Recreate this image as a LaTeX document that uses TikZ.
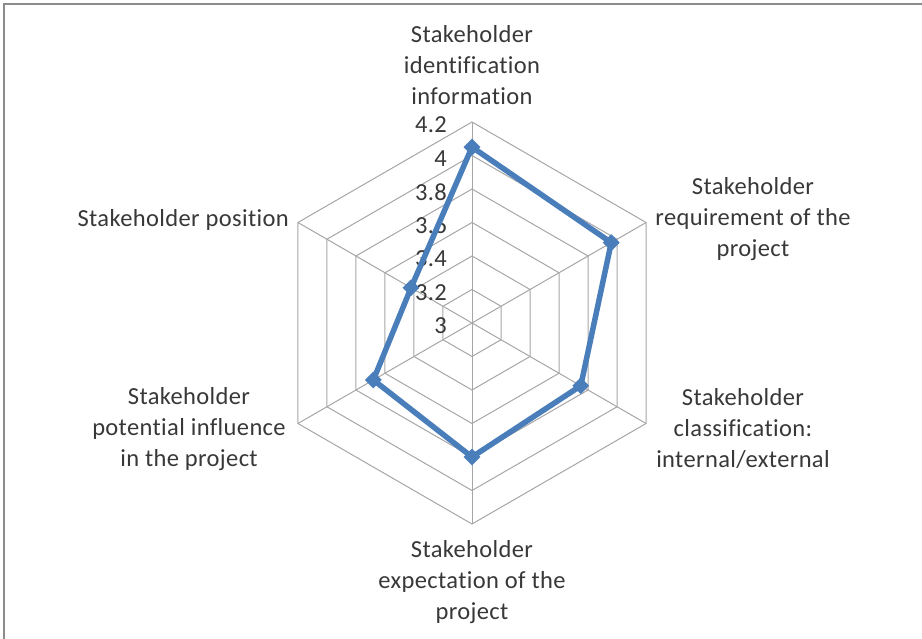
\documentclass[tikz,border=0pt]{standalone}
\usepackage{fontspec}
\setmainfont{Carlito}[Ligatures=NoCommon, LetterSpace=1.5]
\usetikzlibrary{shapes.geometric}
\definecolor{gridgray}{HTML}{A6A6A6}
\definecolor{framegray}{HTML}{8C8C8C}
\definecolor{series}{HTML}{4A7EBB}
\definecolor{txt}{HTML}{383838}
\begin{document}
\begin{tikzpicture}[x=1pt,y=1pt,
  grid/.style={draw=gridgray, line width=1pt},
  serie/.style={draw=series, line width=5.5pt, line join=round},
  mk/.style={diamond, fill=series, inner sep=0pt, minimum size=17pt},
  lab/.style={font=\fontsize{24.5}{31}\selectfont, text=txt, align=center, inner sep=0pt},
  tick/.style={font=\fontsize{24.5}{31}\selectfont, text=txt, anchor=east, inner sep=0pt}]
\useasboundingbox (0,0) rectangle (922,638);
% chart frame
\draw[framegray, line width=1.3pt] (4,-10) |- (935,634);
\coordinate (c) at (472,315);
% radial grid: rings every 0.2 from 3 to 4.2
\foreach \k in {1,...,6}{
  \pgfmathsetmacro\r{33.5*\k}
  \draw[grid, shift={(c)}] (90:\r) -- (30:\r) -- (-30:\r) -- (-90:\r) -- (-150:\r) -- (150:\r) -- cycle;
}
\foreach \a in {90,30,-30,-90,-150,150}
  \draw[grid] (c) -- ++(\a:201);
% axis values
\foreach \k/\v in {0/3,1/3.2,2/3.4,3/3.6,4/3.8,5/4,6/4.2}
  \node[tick] (t\k) at (447,{312+33.5*\k}) {\v};
% data series (value - 3) * 167.5
\node[mk] (p1) at ([shift={(90:175.9)}]c) {};
\node[mk] (p2) at ([shift={(30:160.8)}]c) {};
\node[mk] (p3) at ([shift={(-30:125.6)}]c) {};
\node[mk] (p4) at ([shift={(-90:134.0)}]c) {};
\node[mk] (p5) at ([shift={(-150:113.9)}]c) {};
\node[mk] (p6) at ([shift={(150:70.4)}]c) {};
\draw[serie] (p1.center) -- (p2.center) -- (p3.center) -- (p4.center) -- (p5.center) -- (p6.center) -- cycle;
% category labels
\node[lab] (l1) at (472,573) {Stakeholder\\identification\\information};
\node[lab] (l2) at (753,419) {Stakeholder\\requirement of the\\project};
\node[lab] (l3) at (743,209) {Stakeholder\\classification:\\internal/external};
\node[lab] (l4) at (472,56) {Stakeholder\\expectation of the\\project};
\node[lab] (l5) at (189,209) {Stakeholder\\potential influence\\in the project};
\node[lab, anchor=east] (l6) at (289,418) {Stakeholder position};
\end{tikzpicture}
\end{document}
